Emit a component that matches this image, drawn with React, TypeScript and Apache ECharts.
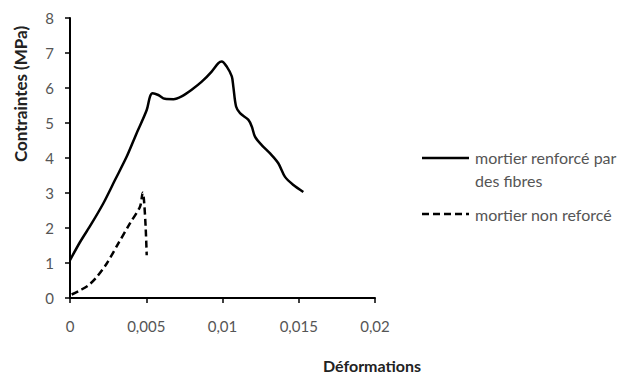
import React, { useEffect, useRef } from "react";
import * as echarts from "echarts";

const fibreStrain = [0, 0.00066, 0.00142, 0.00218, 0.00295, 0.00372, 0.00437, 0.00503, 0.00525, 0.00542, 0.00579, 0.00623, 0.00678, 0.00732, 0.00798, 0.00864, 0.00929, 0.00973, 0.00995, 0.01028, 0.01061, 0.01071, 0.01089, 0.01115, 0.0117, 0.01192, 0.01213, 0.01257, 0.01312, 0.01366, 0.0141, 0.01465, 0.0153];
const fibreStress = [1.08, 1.6, 2.13, 2.7, 3.37, 4.04, 4.71, 5.37, 5.76, 5.85, 5.8, 5.69, 5.68, 5.76, 5.95, 6.18, 6.47, 6.71, 6.76, 6.61, 6.33, 6.04, 5.47, 5.28, 5.09, 4.9, 4.61, 4.37, 4.13, 3.85, 3.46, 3.23, 3.03];
const plainStrain = [0.00011, 0.00066, 0.0012, 0.00175, 0.0024, 0.00317, 0.00393, 0.00459, 0.00477, 0.00485, 0.00496, 0.00503];
const plainStress = [0.1, 0.22, 0.36, 0.6, 0.98, 1.56, 2.13, 2.61, 3.01, 2.8, 2.03, 1.22];
const seriesNames = ["mortier renforcé par\ndes fibres", "mortier non reforcé"];
const xTitle = "Déformations";
const yTitle = "Contraintes (MPa)";

const FONT = "Lato, 'Open Sans', sans-serif";

export default function App() {
  const ref = useRef<HTMLDivElement>(null);
  useEffect(() => {
    const chart = echarts.init(ref.current!, null, { renderer: "svg" });
    const pair = (xs: number[], ys: number[]) => xs.map((x, i) => [x, ys[i]]);
    chart.setOption({
      animation: false,
      backgroundColor: "#fff",
      grid: { left: 70, right: 254, top: 18, bottom: 78 },
      xAxis: {
        type: "value",
        min: 0,
        max: 0.02,
        interval: 0.005,
        splitLine: { show: false },
        axisLine: { lineStyle: { color: "#000", width: 2 } },
        axisTick: { show: true, length: 5, lineStyle: { color: "#000", width: 1.5 } },
        axisLabel: {
          color: "#555",
          fontSize: 15,
          fontFamily: FONT,
          margin: 20,
          formatter: (v: number) => String(v).replace(".", ","),
        },
      },
      yAxis: {
        type: "value",
        min: 0,
        max: 8,
        interval: 1,
        splitLine: { show: false },
        axisLine: { show: true, lineStyle: { color: "#000", width: 2 } },
        axisTick: { show: true, length: 5, lineStyle: { color: "#000", width: 1.5 } },
        axisLabel: { color: "#555", fontSize: 15, fontFamily: FONT, margin: 16 },
      },
      series: [
        {
          name: seriesNames[0],
          type: "line",
          data: pair(fibreStrain, fibreStress),
          symbol: "none",
          smooth: 0.3,
          lineStyle: { color: "#000", width: 2.5 },
        },
        {
          name: seriesNames[1],
          type: "line",
          data: pair(plainStrain, plainStress),
          symbol: "none",
          smooth: 0.3,
          lineStyle: { color: "#000", width: 2.5, type: [7, 4] },
        },
      ],
      graphic: [
        {
          type: "text",
          x: 372,
          y: 365,
          style: { text: xTitle, font: `bold 16px ${FONT}`, fill: "#222", align: "center", verticalAlign: "middle" },
        },
        {
          type: "text",
          x: 20,
          y: 94,
          rotation: Math.PI / 2,
          style: { text: yTitle, font: `bold 17px ${FONT}`, fill: "#222", align: "center", verticalAlign: "middle" },
        },
        { type: "line", shape: { x1: 422, y1: 158, x2: 469, y2: 158 }, style: { stroke: "#000", lineWidth: 2.5 } },
        { type: "line", shape: { x1: 422, y1: 214, x2: 469, y2: 214 }, style: { stroke: "#000", lineWidth: 2.5, lineDash: [7, 4] } },
        {
          type: "text",
          x: 475,
          y: 146,
          style: { text: seriesNames[0], font: `16px ${FONT}`, fill: "#555", lineHeight: 23 },
        },
        {
          type: "text",
          x: 475,
          y: 214,
          style: { text: seriesNames[1], font: `16px ${FONT}`, fill: "#555", verticalAlign: "middle" },
        },
      ],
    });
    return () => chart.dispose();
  }, []);
  return <div ref={ref} style={{ position: "absolute", left: 0, top: 0, width: 629, height: 376 }} />;
}
